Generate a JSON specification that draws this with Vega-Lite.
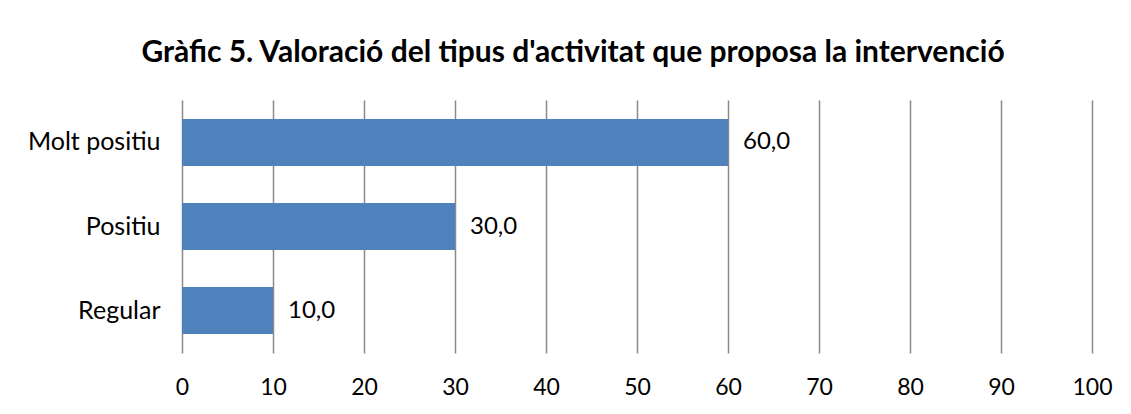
{
  "$schema": "https://vega.github.io/schema/vega-lite/v6.json",
  "width": 910,
  "height": 253,
  "autosize": "none",
  "padding": {"left": 182, "top": 100, "right": 39, "bottom": 61},
  "background": "white",
  "config": {
    "view": {"stroke": null},
    "font": "Lato",
    "locale": {"number": {"decimal": ",", "thousands": ".", "grouping": [3], "currency": ["", " €"]}}
  },
  "title": {
    "text": "Gràfic 5. Valoració del tipus d'activitat que proposa la intervenció",
    "font": "Lato",
    "fontSize": 30,
    "fontWeight": "bold",
    "color": "#000000",
    "anchor": "middle",
    "dx": -64,
    "offset": 32
  },
  "data": {
    "values": [
      {"categoria": "Molt positiu", "valor": 60},
      {"categoria": "Positiu", "valor": 30},
      {"categoria": "Regular", "valor": 10}
    ]
  },
  "encoding": {
    "y": {
      "field": "categoria",
      "type": "nominal",
      "sort": null,
      "scale": {"paddingInner": 0.44, "paddingOuter": 0.225},
      "axis": {
        "title": null,
        "ticks": false,
        "domain": false,
        "labelPadding": 22,
        "labelFontSize": 25,
        "labelColor": "#000000",
        "labelFont": "Lato"
      }
    },
    "x": {
      "field": "valor",
      "type": "quantitative",
      "scale": {"domain": [0, 100], "nice": false},
      "axis": {
        "title": null,
        "values": [0, 10, 20, 30, 40, 50, 60, 70, 80, 90, 100],
        "ticks": false,
        "domain": false,
        "grid": true,
        "gridColor": "#8a8a8a",
        "gridWidth": 1.5,
        "gridOpacity": 1,
        "labelPadding": 23,
        "labelFontSize": 23,
        "labelColor": "#000000",
        "labelFont": "Lato",
        "labelFlush": false,
        "format": "d"
      }
    }
  },
  "layer": [
    {"mark": {"type": "bar", "color": "#4F81BD"}},
    {
      "mark": {"type": "text", "align": "left", "baseline": "middle", "dx": 15, "fontSize": 24, "font": "Lato", "color": "#000000"},
      "encoding": {"text": {"field": "valor", "type": "quantitative", "format": ".1f"}}
    }
  ]
}
